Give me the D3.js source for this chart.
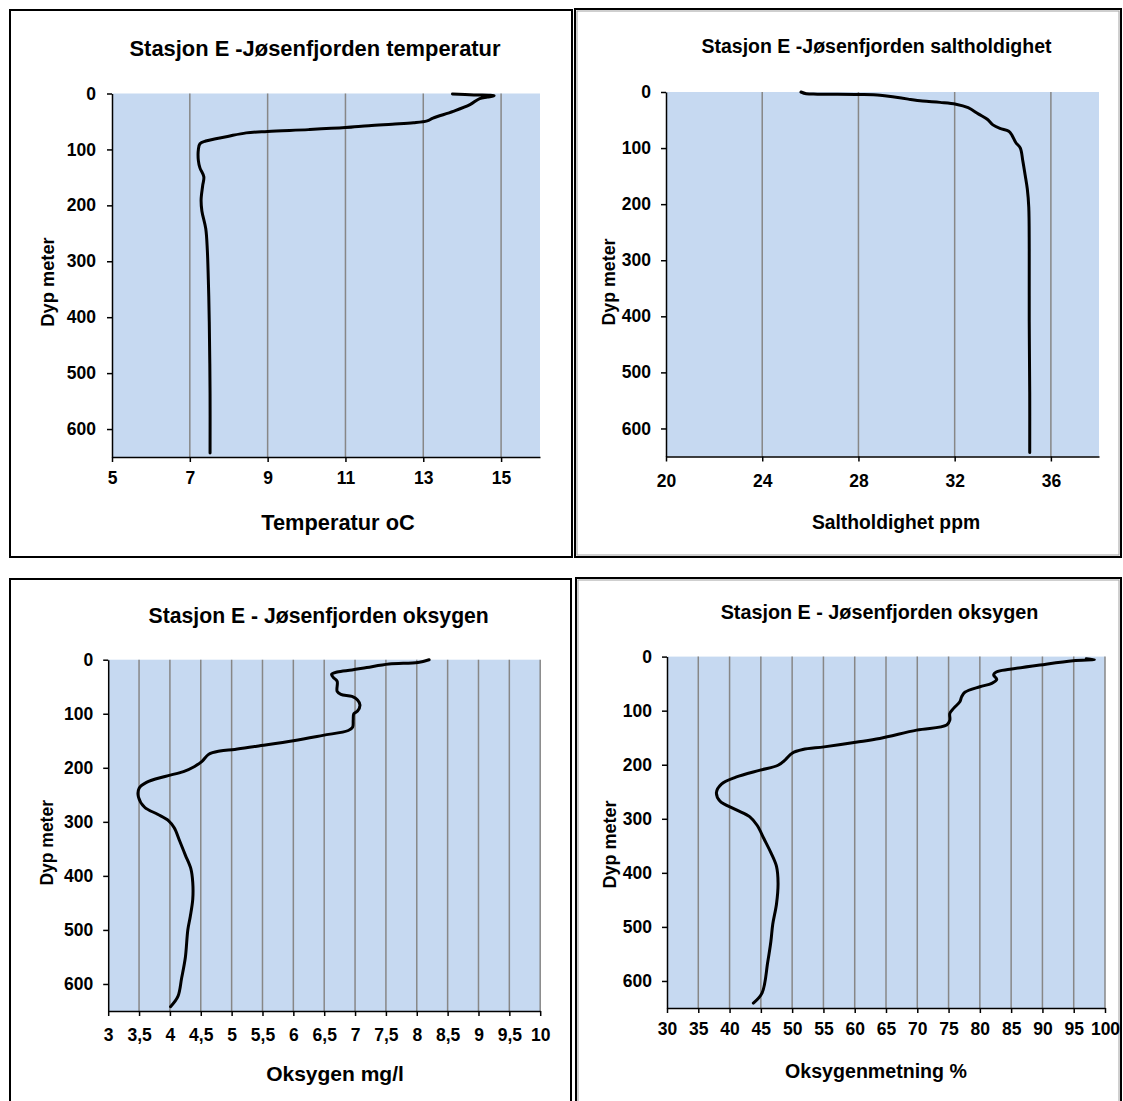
<!DOCTYPE html>
<html>
<head>
<meta charset="utf-8">
<script src="https://cdn.jsdelivr.net/npm/d3@7"></script>
<style>
body { margin: 0; background: #fff; }
svg text { font-family: "Liberation Sans", Arial, sans-serif; font-weight: bold; fill: #000; }
</style>
</head>
<body>
<div id="vis"></div>
<script>
// depth axis, shared by all four profiles
var depthTicks = [0, 100, 200, 300, 400, 500, 600];

// temperatur (oC) vs depth (m)
var tempDepth = [1, 2.5, 4, 6.5, 9, 20, 32, 44, 49, 52.5, 55, 57.6, 61, 64.6, 67.8, 70.4, 76.8, 85, 90, 100, 120, 133, 149, 165, 190, 210, 242, 280, 344, 408, 536, 643];
var tempValues = [13.75, 14.3, 14.82, 14.65, 14.45, 14.2, 13.77, 13.25, 13.1, 12.75, 12.2, 11.6, 11.0, 10.05, 9.0, 8.45, 7.97, 7.41, 7.26, 7.22, 7.22, 7.26, 7.36, 7.33, 7.29, 7.31, 7.41, 7.45, 7.48, 7.5, 7.52, 7.52];
var tempTicks = [5, 7, 9, 11, 13, 15];

// saltholdighet (ppm)
var saltDepth = [0, 3, 3.8, 4.5, 5.7, 9, 12.7, 16, 18.5, 21.7, 28, 39.5, 49, 58.6, 65, 70, 77.7, 90, 100, 122, 148, 173, 205, 280, 409, 536, 643];
var saltValues = [25.61, 25.83, 26.3, 28.0, 28.9, 29.49, 30.07, 30.66, 31.39, 32.05, 32.56, 33.0, 33.37, 33.59, 33.88, 34.25, 34.39, 34.54, 34.73, 34.83, 34.93, 35.02, 35.08, 35.1, 35.1, 35.12, 35.12];
var saltTicks = [20, 24, 28, 32, 36];

// oksygen (mg/l)
var oxyDepth = [0, 5, 8, 14.5, 19, 22.7, 27, 33, 40, 58.7, 64, 68, 74.4, 84, 95, 100, 112, 125, 131, 140, 150, 160, 166, 169, 175, 188, 197.5, 207, 216, 227, 238, 254, 273, 286, 298, 311, 336, 361.5, 387, 412, 443.5, 475, 500, 551, 589, 623, 642];
var oxyValues = [8.2, 8.02, 7.55, 7.19, 6.95, 6.71, 6.62, 6.65, 6.71, 6.71, 6.77, 6.95, 7.04, 7.08, 7.04, 6.98, 6.97, 6.96, 6.89, 6.48, 6.0, 5.41, 5.05, 4.81, 4.63, 4.52, 4.4, 4.22, 3.92, 3.62, 3.5, 3.49, 3.59, 3.8, 3.98, 4.07, 4.16, 4.25, 4.34, 4.37, 4.37, 4.33, 4.29, 4.25, 4.19, 4.13, 4.01];
var oxyTicks = [3, 3.5, 4, 4.5, 5, 5.5, 6, 6.5, 7, 7.5, 8, 8.5, 9, 9.5, 10];

// oksygenmetning (%)
var satDepth = [4, 5.5, 7.6, 15.5, 23.5, 28, 34, 42, 49.5, 55.7, 66, 74, 83.5, 95.8, 105, 117.5, 126.7, 136, 151.5, 158.4, 167, 172, 178.7, 191, 201, 210, 223, 235.7, 251.6, 267, 283, 296, 312, 337, 362.5, 388, 419.5, 457.5, 495, 527, 565, 622, 641];
var satValues = [97.0, 98.3, 94.9, 89.6, 84.8, 82.7, 82.2, 82.7, 81.9, 80.0, 77.6, 77.1, 76.8, 75.8, 75.2, 75.2, 74.7, 69.9, 64.0, 60.15, 55.1, 51.7, 50.0, 48.9, 47.75, 44.9, 41.0, 38.7, 37.9, 38.45, 41.0, 43.2, 44.4, 45.5, 46.6, 47.5, 47.75, 47.5, 46.9, 46.6, 46.1, 45.2, 43.8];
var satTicks = [30, 35, 40, 45, 50, 55, 60, 65, 70, 75, 80, 85, 90, 95, 100];

var svg = d3.select('#vis')
  .append('svg')
  .attr('width', 1123)
  .attr('height', 1101);

var fmt = function(d) { return String(d).replace('.', ','); };

function drawPanel(p) {
  var g = svg.append('g');

  g.append('rect')
    .attr('x', p.frame[0]).attr('y', p.frame[1])
    .attr('width', p.frame[2]).attr('height', p.frame[3])
    .attr('fill', 'none').attr('stroke', '#000').attr('stroke-width', 2);
  if (p.shadow) {
    g.append('rect')
      .attr('x', p.frame[0] + 2).attr('y', p.frame[1] + 2)
      .attr('width', p.frame[2] - 4).attr('height', p.frame[3] - 4)
      .attr('fill', 'none').attr('stroke', '#a0a0a0').attr('stroke-width', 1);
  }

  var x = d3.scaleLinear().domain(p.xDomain).range([p.left, p.right]);
  var y = d3.scaleLinear().domain([0, 650]).range([p.top, p.bottom]);

  g.append('rect')
    .attr('x', p.left).attr('y', p.top)
    .attr('width', p.right - p.left).attr('height', p.bottom - p.top)
    .attr('fill', '#C6D9F1');

  g.selectAll('.grid')
    .data(p.ticks.filter(function(v) { return v > p.xDomain[0]; }))
    .enter().append('line')
    .attr('class', 'grid')
    .attr('x1', function(d) { return x(d); })
    .attr('x2', function(d) { return x(d); })
    .attr('y1', p.top).attr('y2', p.bottom)
    .attr('stroke', '#878787').attr('stroke-width', 1.5);

  var line = d3.line()
    .x(function(d) { return x(d[1]); })
    .y(function(d) { return y(d[0]); })
    .curve(d3.curveCatmullRom.alpha(0.5));

  g.append('path')
    .datum(d3.zip(p.depth, p.values))
    .attr('d', line)
    .attr('fill', 'none').attr('stroke', '#000').attr('stroke-width', 3)
    .attr('stroke-linejoin', 'round').attr('stroke-linecap', 'round');

  var ya = g.append('g')
    .attr('transform', 'translate(' + p.left + ',0)')
    .call(d3.axisLeft(y).tickValues(depthTicks).tickSize(5).tickSizeOuter(0).tickPadding(p.yPad));
  var xa = g.append('g')
    .attr('transform', 'translate(0,' + p.bottom + ')')
    .call(d3.axisBottom(x).tickValues(p.ticks).tickSize(5).tickSizeOuter(0).tickFormat(fmt));
  xa.selectAll('text').attr('y', p.xLabelOff).attr('dy', '0.35em');

  [xa, ya].forEach(function(a) {
    a.attr('font-family', null).attr('font-size', null);
    a.selectAll('path, line').attr('stroke', '#000').attr('stroke-width', 1.5);
    a.selectAll('text').style('font-size', p.tickFont + 'px');
  });

  g.append('text')
    .attr('x', p.title[0]).attr('y', p.title[1]).attr('dy', '0.35em')
    .attr('text-anchor', 'middle').style('font-size', p.title[2] + 'px')
    .text(p.titleText);
  g.append('text')
    .attr('x', p.xTitle[0]).attr('y', p.xTitle[1]).attr('dy', '0.35em')
    .attr('text-anchor', 'middle').style('font-size', p.xTitle[2] + 'px')
    .text(p.xTitleText);
  g.append('text')
    .attr('transform', 'translate(' + p.yTitle[0] + ',' + p.yTitle[1] + ') rotate(-90)')
    .attr('dy', '0.35em')
    .attr('text-anchor', 'middle').style('font-size', p.yTitle[2] + 'px')
    .text('Dyp meter');
}

drawPanel({
  frame: [10, 10, 562, 547], shadow: false,
  left: 112, right: 540, top: 93.5, bottom: 457,
  xDomain: [5, 16], ticks: tempTicks, depth: tempDepth, values: tempValues,
  yPad: 11, xLabelOff: 21, tickFont: 17.5,
  titleText: 'Stasjon E -Jøsenfjorden temperatur', title: [315, 48, 21.9],
  xTitleText: 'Temperatur oC', xTitle: [338, 522, 21.8],
  yTitle: [47.7, 282, 18.3]
});

drawPanel({
  frame: [575, 9, 546, 548], shadow: true,
  left: 666, right: 1099, top: 92, bottom: 456.5,
  xDomain: [20, 38], ticks: saltTicks, depth: saltDepth, values: saltValues,
  yPad: 10, xLabelOff: 24, tickFont: 17.5,
  titleText: 'Stasjon E -Jøsenfjorden saltholdighet', title: [876.5, 46, 19.5],
  xTitleText: 'Saltholdighet ppm', xTitle: [896, 522, 19.3],
  yTitle: [608.8, 282, 17.8]
});

drawPanel({
  frame: [10, 579, 561, 540], shadow: false,
  left: 108.2, right: 540.2, top: 659.7, bottom: 1011,
  xDomain: [3, 10], ticks: oxyTicks, depth: oxyDepth, values: oxyValues,
  yPad: 10, xLabelOff: 24, tickFont: 17.5,
  titleText: 'Stasjon E - Jøsenfjorden oksygen', title: [318.7, 615.6, 21.2],
  xTitleText: 'Oksygen mg/l', xTitle: [335, 1074, 21],
  yTitle: [47, 842.8, 17.5]
});

drawPanel({
  frame: [576, 578, 545, 540], shadow: true,
  left: 667, right: 1105, top: 656.6, bottom: 1008,
  xDomain: [30, 100], ticks: satTicks, depth: satDepth, values: satValues,
  yPad: 10, xLabelOff: 21, tickFont: 17.5,
  titleText: 'Stasjon E - Jøsenfjorden oksygen', title: [879.5, 612.2, 19.8],
  xTitleText: 'Oksygenmetning %', xTitle: [876, 1071, 19.6],
  yTitle: [609.5, 844.5, 18]
});
</script>
</body>
</html>
